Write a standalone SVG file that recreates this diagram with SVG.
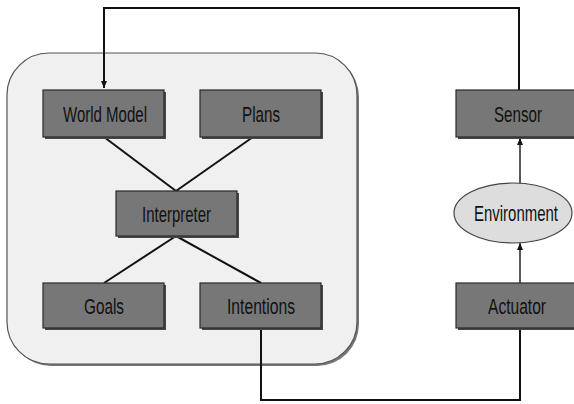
<svg xmlns="http://www.w3.org/2000/svg" width="574" height="404" viewBox="0 0 574 404">
<defs>
<style>
.box{fill:#777;stroke:#2a2a2a;stroke-width:1.2}
.sh{fill:#4a4a4a}
.lbl{font-family:"Liberation Sans Narrow","Liberation Sans",Arial,sans-serif;font-size:22px;fill:#111;text-anchor:middle}
.ln{fill:none;stroke:#111;stroke-width:2}
.ar{fill:none;stroke:#222;stroke-width:1.5}
</style>
<marker id="ah" markerWidth="8" markerHeight="8" refX="7" refY="4" orient="auto" markerUnits="userSpaceOnUse">
<path d="M0,1 L7,4 L0,7 Z" fill="#111"/>
</marker>
</defs>
<rect width="574" height="404" fill="#fff"/>
<g id="agent">
<rect x="9" y="55" width="350" height="311" rx="42" fill="#777"/>
<rect x="7" y="53" width="350" height="311" rx="42" fill="#f0f0f0" stroke="#555" stroke-width="1.2"/>
</g>
<g id="connectors">
<polyline class="ln" points="519,90 519,8 104,8 104,88" marker-end="url(#ah)"/>
<line class="ln" x1="104" y1="137" x2="176" y2="191"/>
<line class="ln" x1="253" y1="137" x2="176" y2="191"/>
<line class="ln" x1="176" y1="236" x2="104" y2="283"/>
<line class="ln" x1="176" y1="236" x2="261" y2="283"/>
<polyline class="ln" points="261,328 261,400 520,400 520,328"/>
<line class="ar" x1="520" y1="183" x2="520" y2="138" marker-end="url(#ah)"/>
<line class="ar" x1="520" y1="283" x2="520" y2="243" marker-end="url(#ah)"/>
</g>
<g id="world-model">
<rect class="sh" x="45" y="92" width="121" height="47"/>
<rect class="box" x="43" y="90" width="121" height="47"/>
<text class="lbl" x="105" y="122" textLength="84" lengthAdjust="spacingAndGlyphs">World Model</text>
</g>
<g id="plans">
<rect class="sh" x="202" y="92" width="121" height="47"/>
<rect class="box" x="200" y="90" width="121" height="47"/>
<text class="lbl" x="261" y="122" textLength="38" lengthAdjust="spacingAndGlyphs">Plans</text>
</g>
<g id="interpreter">
<rect class="sh" x="118" y="193" width="121" height="45"/>
<rect class="box" x="116" y="191" width="121" height="45"/>
<text class="lbl" x="176.5" y="222" textLength="69" lengthAdjust="spacingAndGlyphs">Interpreter</text>
</g>
<g id="goals">
<rect class="sh" x="45" y="285" width="121" height="45"/>
<rect class="box" x="43" y="283" width="121" height="45"/>
<text class="lbl" x="104" y="314" textLength="40" lengthAdjust="spacingAndGlyphs">Goals</text>
</g>
<g id="intentions">
<rect class="sh" x="202" y="285" width="121" height="45"/>
<rect class="box" x="200" y="283" width="121" height="45"/>
<text class="lbl" x="261" y="314" textLength="68" lengthAdjust="spacingAndGlyphs">Intentions</text>
</g>
<g id="sensor">
<rect class="sh" x="458" y="92" width="121" height="47"/>
<rect class="box" x="456" y="90" width="121" height="47"/>
<text class="lbl" x="518" y="122" textLength="48" lengthAdjust="spacingAndGlyphs">Sensor</text>
</g>
<g id="environment">
<ellipse cx="513" cy="213" rx="59" ry="30" fill="#ddd" stroke="#444" stroke-width="1.2"/>
<text class="lbl" x="516" y="221" textLength="84" lengthAdjust="spacingAndGlyphs">Environment</text>
</g>
<g id="actuator">
<rect class="sh" x="458" y="285" width="121" height="45"/>
<rect class="box" x="456" y="283" width="121" height="45"/>
<text class="lbl" x="517" y="314" textLength="58" lengthAdjust="spacingAndGlyphs">Actuator</text>
</g>
</svg>
